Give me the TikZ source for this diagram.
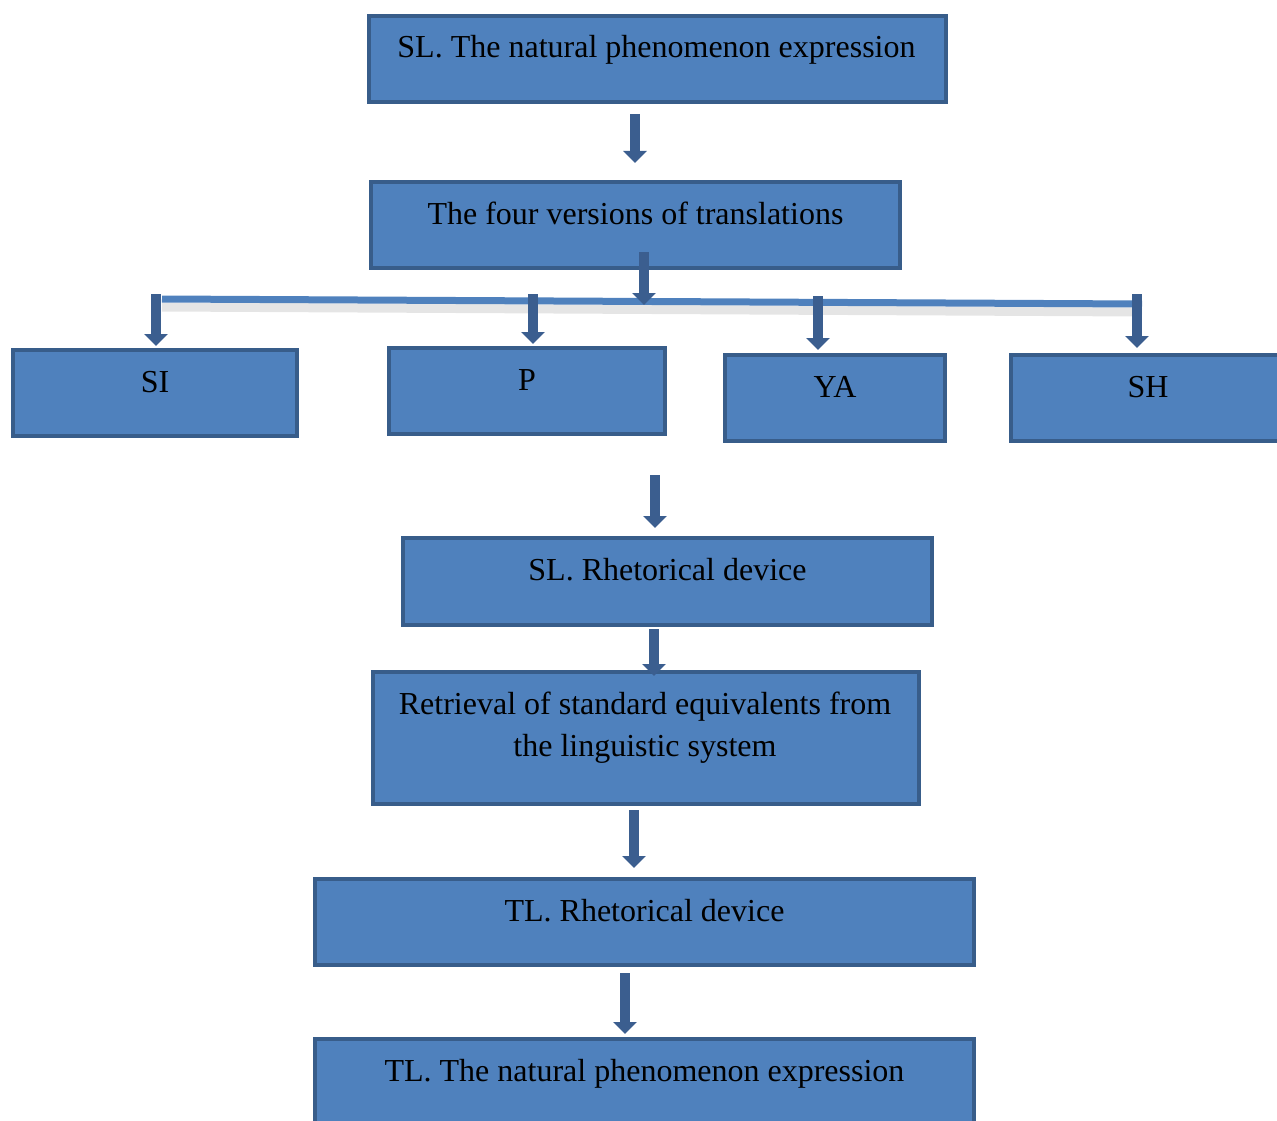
\documentclass[tikz,border=0pt]{standalone}
\usepackage{fontspec}
\setmainfont{Liberation Serif}
\usetikzlibrary{arrows.meta,calc}
\definecolor{boxfill}{HTML}{4F81BD}
\definecolor{boxline}{HTML}{385D8A}
\definecolor{arrcol}{HTML}{3B5E8F}
\begin{document}
\begin{tikzpicture}[x=1pt,y=-1pt,
  box/.style={draw=boxline, fill=boxfill, line width=4pt, inner sep=0pt, minimum height=86pt},
  txt/.style={font=\fontsize{32}{42}\selectfont, text=black, anchor=base, inner sep=0pt, align=center},
  arr/.style={draw=arrcol, line width=10pt, -{Triangle[width=23pt,length=12pt]}},
  hline/.style={draw=boxfill, line width=7pt},
  hshadow/.style={draw=black!20, line width=9pt, opacity=0.5}
]
\useasboundingbox (0,0) rectangle (1277,1121);

% boxes
\node[box, minimum width=577pt] (b1) at (657.5,59) {};
\node[box, minimum width=529pt] (b2) at (635.5,225) {};
\node[box, minimum width=284pt] (si) at (155,393) {};
\node[box, minimum width=276pt] (p) at (527,391) {};
\node[box, minimum width=220pt] (ya) at (835,398) {};
\node[box, minimum width=274pt] (sh) at (1148,398) {};
\node[box, minimum width=529pt, minimum height=87pt] (b7) at (667.5,581.5) {};
\node[box, minimum width=546pt, minimum height=132pt] (b8) at (646,738) {};
\node[box, minimum width=659pt] (b9) at (644.5,922) {};
\node[box, minimum width=659pt] (b10) at (644.5,1082) {};

% texts
\node[txt] (t1) at ($(b1.north)+(-1,44)$) {SL. The natural phenomenon expression};
\node[txt] (t2) at ($(b2.north)+(0,44)$) {The four versions of translations};
\node[txt] (tsi) at ($(si.north)+(0,44)$) {SI};
\node[txt] (tp) at ($(p.north)+(0,44)$) {P};
\node[txt] (tya) at ($(ya.north)+(0,44)$) {YA};
\node[txt] (tsh) at ($(sh.north)+(0,44)$) {SH};
\node[txt] (t7) at ($(b7.north)+(0,44)$) {SL. Rhetorical device};
\node[txt, anchor=north] (t8) at ($(b8.north)+(-1,22)$) {Retrieval of standard equivalents from\\the linguistic system};
\node[txt] (t9) at ($(b9.north)+(0,44)$) {TL. Rhetorical device};
\node[txt] (t10) at ($(b10.north)+(0,44)$) {TL. The natural phenomenon expression};

% horizontal distribution line
\coordinate (hl) at (162,299);
\coordinate (hr) at (1142,304);
\draw[hshadow] ($(hl)+(0,8)$) -- ($(hr)+(0,8)$);
\draw[hline] (hl) -- (hr);

% arrows
\draw[arr] ($(b1.south)+(-22.5,10)$) -- ($(b2.north)+(-0.5,-17)$);
\draw[arr] ($(b2.south)+(8.5,-18)$) -- ($(b2.south)+(8.5,35)$);
\draw[arr] ($(si.north)+(1,-54)$) -- ($(si.north)+(1,-2)$);
\draw[arr] ($(p.north)+(6,-52)$) -- ($(p.north)+(6,-2)$);
\draw[arr] ($(ya.north)+(-17,-57)$) -- ($(ya.north)+(-17,-3)$);
\draw[arr] ($(sh.north)+(-11,-59)$) -- ($(sh.north)+(-11,-5)$);
\draw[arr] ($(b7.north)+(-12.5,-61)$) -- ($(b7.north)+(-12.5,-8)$);
\draw[arr] ($(b7.south)+(-13.5,2)$) -- ($(b8.north)+(8,6)$);
\draw[arr] ($(b8.south)+(-12,4)$) -- ($(b9.north)+(-10.5,-9)$);
\draw[arr] ($(b9.south)+(-19.5,6)$) -- ($(b10.north)+(-19.5,-3)$);
\end{tikzpicture}
\end{document}
